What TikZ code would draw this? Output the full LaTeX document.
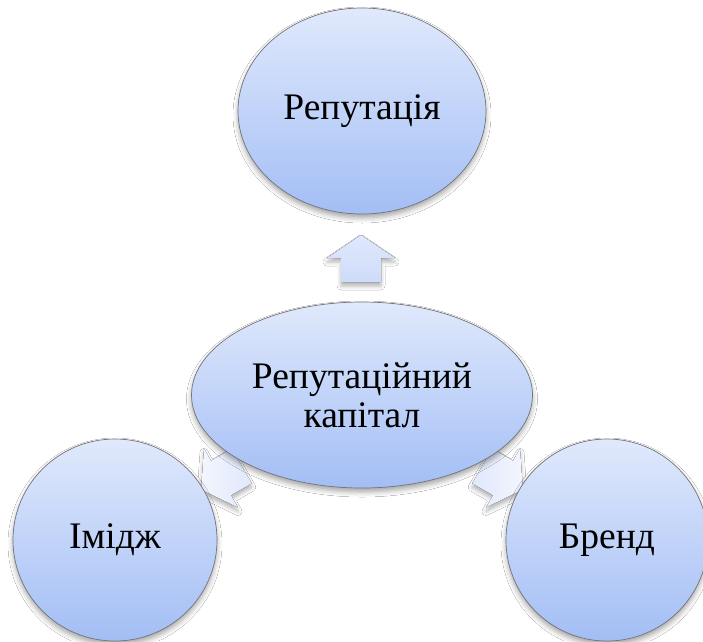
\documentclass[tikz,border=0pt]{standalone}
\usepackage{fontspec}
\setmainfont{Liberation Serif}
\usetikzlibrary{shapes.geometric,shadows.blur}
\definecolor{ctop}{RGB}{224,233,252}
\definecolor{cbot}{RGB}{163,190,245}
\definecolor{cedge}{RGB}{115,115,120}
\definecolor{atop}{RGB}{224,232,252}
\definecolor{abot}{RGB}{206,220,250}
\tikzset{
  bubble/.style={ellipse, draw=cedge, line width=0.7pt, inner sep=0pt,
    top color=ctop, bottom color=cbot, align=center,
    font=\fontsize{37.5}{40}\selectfont,
    blur shadow={shadow xshift=0pt, shadow yshift=-4pt, shadow blur radius=5pt, shadow opacity=35}},
  arrowfill/.style={draw=none,
    blur shadow={shadow xshift=0pt, shadow yshift=-4pt, shadow blur radius=4pt, shadow opacity=30}},
}
\newcommand{\arrowpath}{(23,0) -- (0,34) -- (0,20) -- (-24,20) -- (-24,-20) -- (0,-20) -- (0,-34) -- cycle}
\begin{document}
\begin{tikzpicture}[x=1pt,y=-1pt]
\useasboundingbox[fill=white] (0,0) rectangle (703,641);
% arrows (behind the bubbles)
\begin{scope}[shift={(361,258)}, rotate=90]
  \fill[arrowfill, top color=atop, bottom color=abot] \arrowpath;
\end{scope}
\begin{scope}[shift={(221,478)}, rotate=210]
  \fill[arrowfill, left color=white!60!atop, right color=atop] \arrowpath;
\end{scope}
\begin{scope}[shift={(503,478)}, rotate=330]
  \fill[arrowfill, left color=atop, right color=white!60!atop] \arrowpath;
\end{scope}
% bubbles
\node[bubble, minimum width=248pt, minimum height=206pt] (rep) at (362,111) {Репутація};
\node[bubble, minimum width=204pt, minimum height=202pt] (img) at (115,540) {Імідж};
\node[bubble, minimum width=202pt, minimum height=202pt] (brand) at (607,540) {Бренд};
\node[bubble, minimum width=341pt, minimum height=186pt] (cap) at (362,395) {Репутаційний\\[-1pt]капітал};
\end{tikzpicture}
\end{document}
